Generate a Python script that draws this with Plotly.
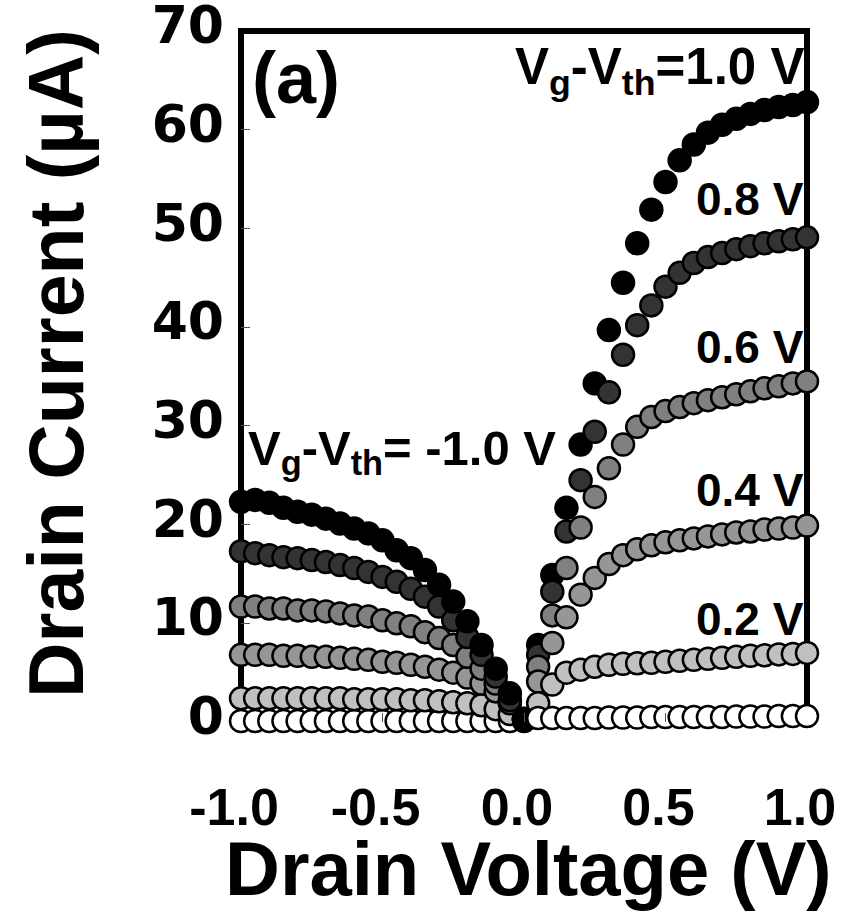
import plotly.graph_objects as go

# Drain voltage sweeps (V): negative branch includes 0, positive branch starts at 0.05
vd_neg = [-1.0, -0.95, -0.9, -0.85, -0.8, -0.75, -0.7, -0.65, -0.6, -0.55, -0.5,
          -0.45, -0.4, -0.35, -0.3, -0.25, -0.2, -0.15, -0.1, -0.05, 0.0]
vd_pos = [0.05, 0.1, 0.15, 0.2, 0.25, 0.3, 0.35, 0.4, 0.45, 0.5,
          0.55, 0.6, 0.65, 0.7, 0.75, 0.8, 0.85, 0.9, 0.95, 1.0]

# Drain current magnitude (uA) for the negative branch, by Vg-Vth
id_neg_m10 = [22.3, 22.5, 22.2, 21.7, 21.3, 21.0, 20.6, 20.1, 19.6, 19.1, 18.4,
              17.4, 16.6, 15.4, 13.9, 12.2, 10.2, 7.8, 5.4, 2.9, 0.3]
id_neg_m08 = [17.3, 17.1, 16.9, 16.7, 16.6, 16.4, 16.2, 15.9, 15.6, 15.2, 14.7,
              14.2, 13.5, 12.7, 11.7, 10.3, 8.6, 6.8, 4.6, 2.2, 0.3]
id_neg_m06 = [11.7, 11.7, 11.5, 11.5, 11.3, 11.3, 11.2, 11.0, 10.8, 10.7, 10.3,
              10.0, 9.7, 9.1, 8.5, 7.8, 6.6, 5.4, 3.9, 1.9, 0.3]
id_neg_m04 = [6.8, 6.8, 6.8, 6.7, 6.7, 6.6, 6.6, 6.5, 6.4, 6.3, 6.1,
              6.0, 5.8, 5.6, 5.3, 5.0, 4.5, 3.9, 3.1, 2.0, 0.3]
id_neg_m02 = [2.4, 2.4, 2.4, 2.4, 2.4, 2.4, 2.4, 2.4, 2.3, 2.3, 2.3,
              2.3, 2.2, 2.2, 2.1, 2.0, 1.9, 1.7, 1.3, 0.8, 0.2]
id_neg_00 = [0.1, 0.1, 0.1, 0.1, 0.1, 0.1, 0.1, 0.1, 0.1, 0.1, 0.1,
             0.1, 0.1, 0.1, 0.1, 0.1, 0.1, 0.1, 0.1, 0.1, 0.1]

# Drain current (uA) for the positive branch, by Vg-Vth
id_pos_10 = [7.8, 14.9, 21.7, 28.1, 34.3, 39.7, 44.5, 48.5, 51.9, 54.7,
             56.9, 58.5, 59.7, 60.5, 61.1, 61.6, 62.0, 62.3, 62.5, 62.8]
id_pos_08 = [6.8, 13.2, 19.3, 24.5, 29.4, 33.4, 37.2, 40.2, 42.2, 44.1,
             45.5, 46.5, 47.1, 47.5, 47.9, 48.2, 48.5, 48.7, 48.9, 49.1]
id_pos_06 = [5.6, 10.8, 15.6, 19.7, 22.8, 25.7, 28.1, 29.9, 30.9, 31.5,
             31.9, 32.3, 32.6, 32.9, 33.2, 33.5, 33.8, 34.0, 34.3, 34.5]
id_pos_04 = [4.1, 8.0, 10.6, 12.9, 14.6, 16.0, 16.9, 17.5, 17.9, 18.2,
             18.4, 18.6, 18.8, 19.0, 19.2, 19.3, 19.5, 19.6, 19.7, 19.9]
id_pos_02 = [1.9, 3.8, 5.0, 5.3, 5.6, 5.8, 5.9, 5.95, 6.0, 6.1,
             6.2, 6.3, 6.4, 6.5, 6.6, 6.7, 6.75, 6.85, 6.9, 7.0]
id_pos_00 = [0.4, 0.4, 0.4, 0.4, 0.4, 0.45, 0.45, 0.45, 0.5, 0.5,
             0.5, 0.5, 0.5, 0.5, 0.55, 0.55, 0.55, 0.6, 0.6, 0.6]

x_ticks = [-1.0, -0.5, 0.0, 0.5, 1.0]
x_tick_text = ["-1.0", "-0.5", "0.0", "0.5", "1.0"]
y_ticks = [0, 10, 20, 30, 40, 50, 60, 70]

curve_labels = ["0.8 V", "0.6 V", "0.4 V", "0.2 V"]

# Fill colours per gate overdrive: 1.0, 0.8, 0.6, 0.4, 0.2, 0.0 V
fills = ["#000000", "#333333", "#808080", "#969696", "#c0c0c0", "#ffffff"]

W, H = 841, 920
L, R, T, B = 241, 34, 31, 198
PW, PH = W - L - R, H - T - B


def px(x):
    return (x - L) / PW


def py(y):
    return (T + PH - y) / PH


fig = go.Figure()

marker_size = 22
edge = dict(color="#000000", width=2.5)

# Negative branch: lowest overdrive drawn first, so the 1.0 V curve sits on top
neg_sets = [id_neg_00, id_neg_m02, id_neg_m04, id_neg_m06, id_neg_m08, id_neg_m10]
for vals, col in zip(neg_sets, fills[::-1]):
    fig.add_trace(go.Scatter(
        x=vd_neg, y=vals, mode="markers", cliponaxis=False, showlegend=False,
        marker=dict(size=marker_size, color=col, line=edge)))

# Positive branch: highest overdrive drawn first
pos_sets = [id_pos_10, id_pos_08, id_pos_06, id_pos_04, id_pos_02, id_pos_00]
for vals, col in zip(pos_sets, fills):
    fig.add_trace(go.Scatter(
        x=vd_pos, y=vals, mode="markers", cliponaxis=False, showlegend=False,
        marker=dict(size=marker_size, color=col, line=edge)))

bold = "Liberation Sans"


def bfont(size):
    return dict(family=bold, size=size, weight="bold", color="#000000")


annotations = [
    dict(text="(a)", x=px(250), y=py(78), xanchor="left", yanchor="middle",
         font=bfont(72)),
    dict(text="V<sub>g</sub>-V<sub>th</sub>=1.0 V", x=px(806), y=py(105),
         xanchor="right", yanchor="bottom", font=bfont(51)),
    dict(text="V<sub>g</sub>-V<sub>th</sub>= -1.0 V", x=px(246), y=py(484),
         xanchor="left", yanchor="bottom", font=bfont(49)),
    dict(text="Drain Voltage (V)", x=px(528), y=py(868), xanchor="center",
         yanchor="middle", font=bfont(76)),
    dict(text="Drain Current (\u00b5A)", x=px(56), y=py(364), xanchor="center",
         yanchor="middle", textangle=-90, font=bfont(77)),
]
label_y = [199, 347, 490, 619]
for txt, yy in zip(curve_labels, label_y):
    annotations.append(dict(
        text=txt, x=px(806), y=py(yy), xanchor="right", yanchor="middle",
        font=bfont(46)))
for a in annotations:
    a.update(xref="paper", yref="paper", showarrow=False)

fig.update_layout(
    width=W, height=H,
    margin=dict(l=L, r=R, t=T, b=B, pad=0, autoexpand=False),
    paper_bgcolor="white", plot_bgcolor="white",
    annotations=annotations,
    shapes=[dict(type="rect", xref="paper", yref="paper", x0=0, x1=1, y0=0, y1=1,
                 line=dict(color="#000000", width=6), layer="below")],
)

fig.update_xaxes(
    range=[-1.0, 1.0], tickvals=x_ticks, ticktext=x_tick_text, automargin=False,
    showgrid=False, zeroline=False, showline=False,
    ticks="inside", ticklen=9, tickwidth=1, tickcolor="#555555",
    ticklabelstandoff=50, ticklabelshift=-7, ticklabeloverflow="allow",
    tickfont=dict(family=bold, size=52, weight="bold", color="#000000"),
)
fig.update_yaxes(
    range=[0, 70.0001], tickvals=y_ticks, automargin=False,
    showgrid=False, zeroline=False, showline=False,
    ticks="inside", ticklen=9, tickwidth=1, tickcolor="#555555",
    ticklabelstandoff=16, ticklabelshift=-6, ticklabeloverflow="allow",
    tickfont=dict(family="DejaVu Sans", size=52, weight="bold", color="#000000"),
)

fig.write_html("out.html")
